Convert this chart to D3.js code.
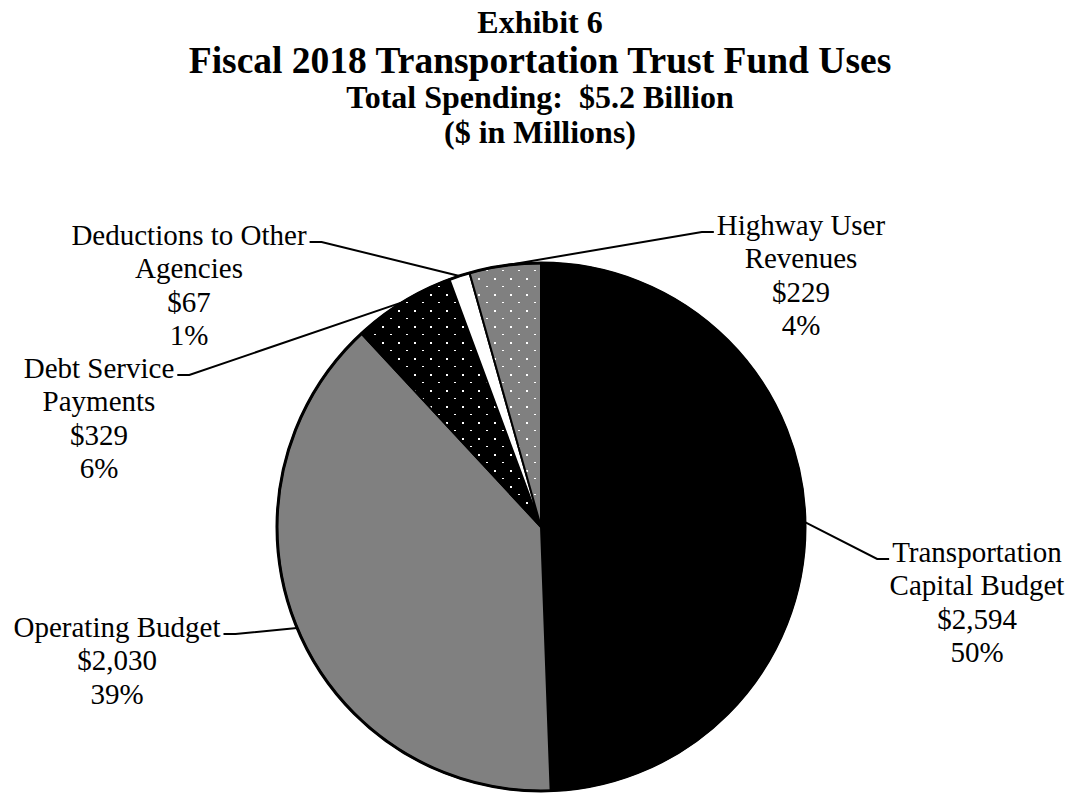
<!DOCTYPE html>
<html>
<head>
<meta charset="utf-8">
<script src="https://cdn.jsdelivr.net/npm/d3@7"></script>
<style>
  html, body { margin: 0; padding: 0; background: #fff; }
  svg { display: block; }
  text { font-family: "Liberation Serif", "Times New Roman", serif; fill: #000; }
</style>
</head>
<body>
<svg id="chart" width="1071" height="793"></svg>
<script>
// Fiscal 2018 Transportation Trust Fund uses ($ in millions)
const categories = [
  "Transportation Capital Budget",
  "Operating Budget",
  "Debt Service Payments",
  "Deductions to Other Agencies",
  "Highway User Revenues"
];
const values = [2594, 2030, 329, 67, 229];
const percentLabels = ["50%", "39%", "6%", "1%", "4%"];
const labelLines = [
  ["Transportation", "Capital Budget"],
  ["Operating Budget"],
  ["Debt Service", "Payments"],
  ["Deductions to Other", "Agencies"],
  ["Highway User", "Revenues"]
];
const titleLines = [
  "Exhibit 6",
  "Fiscal 2018 Transportation Trust Fund Uses",
  "Total Spending:  $5.2 Billion",
  "($ in Millions)"
];

// Layout
const W = 1071, H = 793;
const cx = 541, cy = 527, R = 264;
const titleX = 540;
const labelFont = 29, lineGap = 33.4;
// text centre x, first baseline y, which side of the pie the label sits on
const labelSpots = [
  { x: 977, y: 562, side: "right" },
  { x: 117, y: 637, side: "left" },
  { x: 99,  y: 378, side: "left" },
  { x: 189, y: 245, side: "left" },
  { x: 801, y: 235, side: "right" }
];
const sliceFills = ["#000000", "#808080", "url(#dotsOnBlack)", "#ffffff", "url(#dotsOnGrey)"];

const svg = d3.select("#chart");

// Dotted fills
const defs = svg.append("defs");
function dotPattern(id, bg) {
  const p = defs.append("pattern")
    .attr("id", id)
    .attr("patternUnits", "userSpaceOnUse")
    .attr("width", 16).attr("height", 16);
  p.append("rect").attr("width", 16).attr("height", 16).attr("fill", bg);
  p.append("rect").attr("x", 1).attr("y", 7).attr("width", 2).attr("height", 2).attr("fill", "#fff");
  p.append("rect").attr("x", 9).attr("y", 15).attr("width", 2).attr("height", 2).attr("fill", "#fff");
}
dotPattern("dotsOnBlack", "#000");
dotPattern("dotsOnGrey", "#808080");

// Titles
const titleSpecs = [
  { size: 32, y: 33 },
  { size: 37.5, y: 73 },
  { size: 32, y: 108 },
  { size: 32, y: 143 }
];
svg.append("g").selectAll("text")
  .data(titleLines)
  .join("text")
  .attr("x", titleX)
  .attr("y", (d, i) => titleSpecs[i].y)
  .attr("text-anchor", "middle")
  .attr("font-weight", "bold")
  .attr("font-size", (d, i) => titleSpecs[i].size)
  .style("white-space", "pre")
  .text(d => d);

// Pie
const data = categories.map((c, i) => ({ name: c, value: values[i], i }));
const pie = d3.pie().value(d => d.value).sort(null);
const arcs = pie(data);
const arc = d3.arc().innerRadius(0).outerRadius(R);

const g = svg.append("g").attr("transform", `translate(${cx},${cy})`);
g.selectAll("path.slice")
  .data(arcs)
  .join("path")
  .attr("class", "slice")
  .attr("d", arc)
  .attr("fill", d => sliceFills[d.data.i])
  .attr("stroke", "#000")
  .attr("stroke-width", 2)
  .attr("stroke-linejoin", "round");

g.append("circle")
  .attr("r", R)
  .attr("fill", "none")
  .attr("stroke", "#000")
  .attr("stroke-width", 3);

// Labels with leader lines
const fmt = d3.format("$,");
const labels = svg.append("g");
arcs.forEach(a => {
  const i = a.data.i;
  const spot = labelSpots[i];
  const lines = labelLines[i].concat([fmt(values[i]), percentLabels[i]]);
  const t = labels.append("text")
    .attr("text-anchor", "middle")
    .attr("font-size", labelFont);
  lines.forEach((ln, k) => {
    t.append("tspan")
      .attr("x", spot.x)
      .attr("y", spot.y + k * lineGap)
      .text(ln);
  });
  const firstW = t.select("tspan").node().getComputedTextLength();
  const mid = (a.startAngle + a.endAngle) / 2;
  const px = cx + R * Math.sin(mid), py = cy - R * Math.cos(mid);
  const ly = spot.y - 3;
  let sx, ex;
  if (spot.side === "left") {
    sx = spot.x + firstW / 2 + 3; ex = sx + 12;
  } else {
    sx = spot.x - firstW / 2 - 3; ex = sx - 12;
  }
  labels.append("path")
    .attr("d", d3.line()([[px, py], [ex, ly], [sx, ly]]))
    .attr("fill", "none")
    .attr("stroke", "#000")
    .attr("stroke-width", 2);
});
</script>
</body>
</html>
